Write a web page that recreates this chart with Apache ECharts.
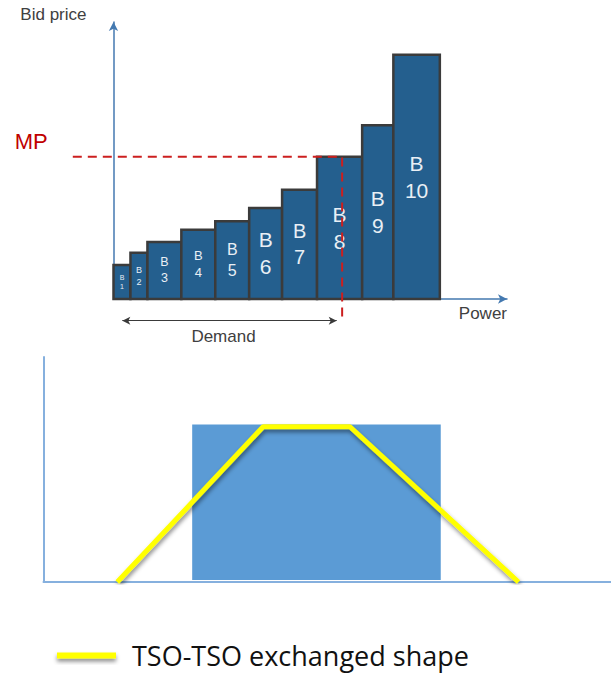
<!DOCTYPE html>
<html>
<head>
<meta charset="utf-8">
<script src="https://cdn.jsdelivr.net/npm/echarts@6/dist/echarts.min.js"></script>
<style>
  html, body { margin: 0; padding: 0; background: #ffffff; }
  #chart { width: 611px; height: 675px; }
</style>
</head>
<body>
<div id="chart"></div>
<script>
// Merit order: bid blocks side by side by volume, in ascending price order
const bidNames   = ['B1', 'B2', 'B3', 'B4', 'B5', 'B6', 'B7', 'B8', 'B9', 'B10'];
const bidVolumes = [5, 5, 10, 10, 10, 9.7, 10.3, 13.3, 9.2, 13.7];
const bidPrices  = [14, 19, 23.5, 28.5, 32, 37.5, 45, 58.5, 71.5, 100.5];
const marginalPrice = 58.5;      // MP, set by block B8
const demandVolume = 67.4;
const demandArrowSpan = [2.6, 65.8];
const demandArrowLevel = -8.9;
const mpLineFrom = -12;
const mpDropTo = -8;

// Bid block against the exchanged ramp shape
const blockTime = [26.2, 70];
const blockPower = [0.9, 70];
const shapeTime  = [13, 38.7, 54, 83.7];
const shapePower = [0, 69, 69, 0];

// Text size of the block labels, growing with the block
const labelSizes = [7, 9, 12.5, 13, 16, 21, 20, 21, 21, 21];

// ---- layout of the merit-order plot ----
const meritLeft = 113.5, meritTop = 22, meritWidth = 393.5, meritHeight = 277;
const meritXMax = 116, meritYMax = 114;
const annXMin = -12, annYMin = -12;
const pxX = meritWidth / meritXMax;
const pxY = meritHeight / meritYMax;

// Block edges from cumulative volume
const bidBlocks = [];
let acc = 0;
bidVolumes.forEach((v, i) => {
  bidBlocks.push([acc, acc + v, bidPrices[i], i]);
  acc += v;
});

const axisBlue = '#4479b0';
const lightBlue = '#86b0de';
const hidden = { show: false };
const bare = {
  type: 'value',
  axisTick: hidden, axisLabel: hidden, splitLine: hidden
};

const chart = echarts.init(document.getElementById('chart'), null, { renderer: 'svg' });

chart.setOption({
  animation: false,
  backgroundColor: '#ffffff',
  grid: [
    { left: meritLeft, top: meritTop, width: meritWidth, height: meritHeight },
    {
      left: meritLeft + annXMin * pxX,
      top: meritTop,
      width: (meritXMax - annXMin) * pxX,
      height: (meritYMax - annYMin) * pxY
    },
    { left: 43.5, top: 357, width: 567.5, height: 225 }
  ],
  xAxis: [
    Object.assign({}, bare, {
      gridIndex: 0, min: 0, max: meritXMax,
      name: 'Power', nameLocation: 'end', nameGap: 0,
      nameTextStyle: {
        fontFamily: 'Liberation Sans', fontSize: 17, color: '#404040',
        align: 'right', verticalAlign: 'top', padding: [6, 0, 0, 0]
      },
      axisLine: {
        show: true, symbol: ['none', 'arrow'], symbolSize: [7, 9],
        lineStyle: { color: axisBlue, width: 1.5 }
      }
    }),
    Object.assign({}, bare, {
      gridIndex: 1, min: annXMin, max: meritXMax, show: false
    }),
    Object.assign({}, bare, {
      gridIndex: 2, min: 0, max: 100,
      axisLine: { show: true, onZero: false, lineStyle: { color: lightBlue, width: 2 } }
    })
  ],
  yAxis: [
    Object.assign({}, bare, {
      gridIndex: 0, min: 0, max: meritYMax,
      name: 'Bid price', nameLocation: 'end', nameGap: 8,
      nameTextStyle: {
        fontFamily: 'Liberation Sans', fontSize: 17, color: '#404040',
        align: 'right', verticalAlign: 'middle', padding: [0, 27, 0, 0]
      },
      axisLine: {
        show: true, symbol: ['none', 'arrow'], symbolSize: [7, 9],
        lineStyle: { color: axisBlue, width: 1.5 }
      }
    }),
    Object.assign({}, bare, {
      gridIndex: 1, min: annYMin, max: meritYMax, show: false
    }),
    Object.assign({}, bare, {
      gridIndex: 2, min: 0, max: 100,
      axisLine: { show: true, onZero: false, lineStyle: { color: lightBlue, width: 2 } }
    })
  ],
  legend: {
    data: ['TSO-TSO exchanged shape'],
    left: 52, top: 637,
    icon: 'rect', itemWidth: 59, itemHeight: 6,
    itemStyle: { shadowBlur: 4, shadowColor: 'rgba(0,0,0,0.45)', shadowOffsetY: 3 },
    textStyle: {
      fontFamily: 'Open Sans', fontSize: 27, color: '#111111',
      lineHeight: 27, padding: [0, 0, 0, 11]
    },
    selectedMode: false
  },
  series: [
    {
      name: 'Bids',
      type: 'custom',
      xAxisIndex: 0, yAxisIndex: 0,
      data: bidBlocks,
      encode: { x: [0, 1], y: 2 },
      z: 2,
      renderItem: function (params, api) {
        const i = api.value(3);
        const topLeft = api.coord([api.value(0), api.value(2)]);
        const botRight = api.coord([api.value(1), 0]);
        const fs = labelSizes[i];
        return {
          type: 'rect',
          shape: {
            x: topLeft[0], y: topLeft[1],
            width: botRight[0] - topLeft[0], height: botRight[1] - topLeft[1]
          },
          style: { fill: '#245f8e', stroke: '#3b3b3b', lineWidth: 2.5 },
          textContent: {
            style: {
              text: bidNames[i].replace(/^B/, 'B\n'),
              fill: '#e9eff5',
              fontFamily: 'Liberation Sans',
              fontSize: fs,
              lineHeight: Math.round(fs * 1.3),
              align: 'center',
              verticalAlign: 'middle'
            }
          },
          textConfig: { position: 'inside' }
        };
      }
    },
    {
      name: 'MP',
      type: 'line',
      xAxisIndex: 1, yAxisIndex: 1,
      z: 5,
      symbol: 'circle',
      symbolSize: 0,
      showSymbol: true,
      silent: true,
      itemStyle: { color: '#cc1f1f' },
      lineStyle: { color: '#cc1f1f', width: 2, type: [9, 6] },
      data: [
        {
          value: [mpLineFrom, marginalPrice],
          label: {
            show: true, formatter: 'MP', position: 'left', distance: 25,
            offset: [0, -15], color: '#c00000', fontSize: 22, fontFamily: 'Liberation Sans'
          }
        },
        [demandVolume, marginalPrice],
        [demandVolume, mpDropTo]
      ],
      markLine: {
        silent: true,
        symbol: ['arrow', 'arrow'],
        symbolSize: [6, 8],
        lineStyle: { color: '#3a3a3a', width: 1.2, type: 'solid' },
        label: {
          show: true, formatter: 'Demand', position: 'insideMiddleBottom', distance: 7,
          color: '#404040', fontSize: 17, fontFamily: 'Liberation Sans',
          padding: [0, 12, 0, 0]
        },
        emphasis: { disabled: true },
        data: [[
          { coord: [demandArrowSpan[0], demandArrowLevel] },
          { coord: [demandArrowSpan[1], demandArrowLevel] }
        ]]
      }
    },
    {
      name: 'Bid block',
      type: 'custom',
      xAxisIndex: 2, yAxisIndex: 2,
      data: [[blockTime[0], blockTime[1], blockPower[0], blockPower[1]]],
      encode: { x: [0, 1], y: [2, 3] },
      z: 2,
      renderItem: function (params, api) {
        const a = api.coord([api.value(0), api.value(3)]);
        const b = api.coord([api.value(1), api.value(2)]);
        return {
          type: 'rect',
          shape: { x: a[0], y: a[1], width: b[0] - a[0], height: b[1] - a[1] },
          style: { fill: '#5b9bd5' }
        };
      }
    },
    {
      name: 'TSO-TSO exchanged shape',
      type: 'line',
      xAxisIndex: 2, yAxisIndex: 2,
      z: 4,
      symbol: 'none',
      color: '#ffff00',
      lineStyle: {
        color: '#ffff00', width: 5,
        shadowBlur: 4, shadowColor: 'rgba(0,0,0,0.45)', shadowOffsetX: 1, shadowOffsetY: 3
      },
      data: shapeTime.map((t, i) => [t, shapePower[i]])
    }
  ]
});
</script>
</body>
</html>
